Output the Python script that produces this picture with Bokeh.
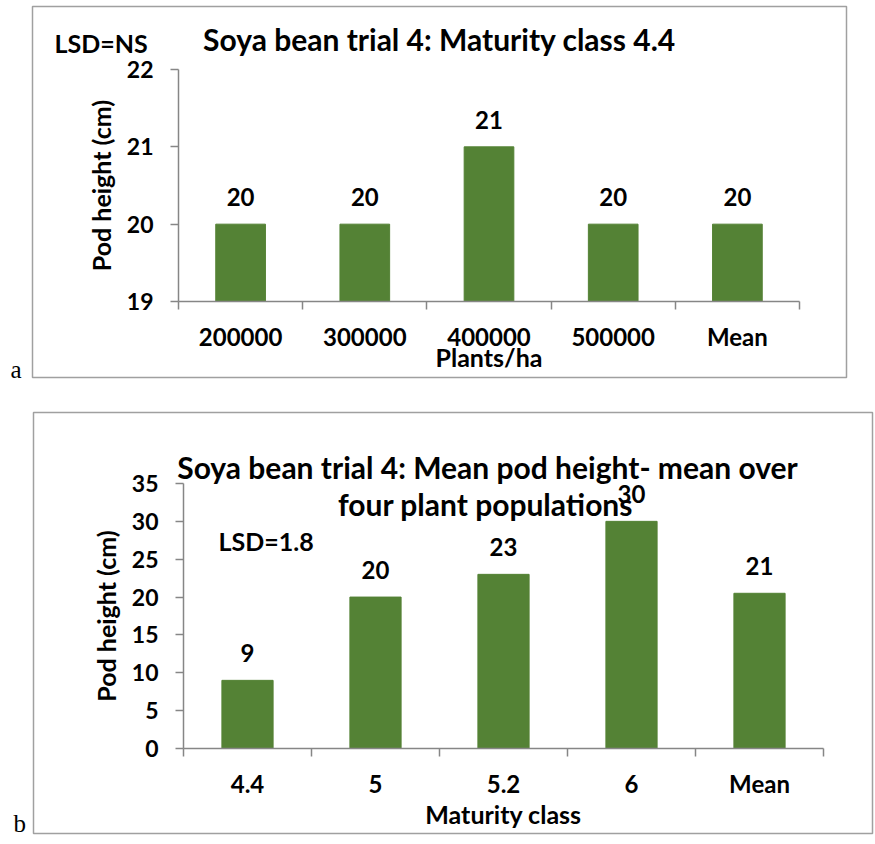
from bokeh.plotting import figure
from bokeh.models import (Range1d, FixedTicker, LabelSet, Label, BoxAnnotation,
                          ColumnDataSource)
from bokeh.core.properties import value
from bokeh.layouts import column
from bokeh.embed import file_html
from bokeh.resources import INLINE

# ---------------- data ----------------
a_categories = ["200000", "300000", "400000", "500000", "Mean"]
a_values = [20, 20, 21, 20, 20]
a_value_labels = ["20", "20", "21", "20", "20"]
a_yticks = [19, 20, 21, 22]
a_ymin, a_ymax = 19, 22
a_title = "Soya bean trial 4: Maturity class 4.4"
a_xlabel = "Plants/ha"
a_lsd = "LSD=NS"

b_categories = ["4.4", "5", "5.2", "6", "Mean"]
b_values = [9, 20, 23, 30, 20.5]
b_value_labels = ["9", "20", "23", "30", "21"]
b_yticks = [0, 5, 10, 15, 20, 25, 30, 35]
b_ymin, b_ymax = 0, 35
b_title1 = "Soya bean trial 4: Mean pod height- mean over"
b_title2 = "four plant populations"
b_xlabel = "Maturity class"
b_lsd = "LSD=1.8"

ylabel = "Pod height (cm)"

# ---------------- style ----------------
FONT = "Lato"
GREEN = "#548235"
AXIS = "#868686"
BORDER = "#a0a0a0"
W = 875


def make_panel(cats, vals, labs, yticks, ymin, ymax, xlabel, canvas_top, height,
               fl, fr, ft, fb, xlab_standoff, texts, border, letter):
    """fl/fr/ft/fb: plot-area edges in page pixels."""
    n = len(cats)
    ux = (fr - fl) / n
    uy = (fb - ft) / (ymax - ymin)

    def dx(px):
        return -0.5 + (px - fl) / ux

    def dy(py):
        return ymin + (fb - py) / uy

    p = figure(width=W, height=height,
               x_range=Range1d(dx(0), dx(W)),
               y_range=Range1d(dy(canvas_top + height), dy(canvas_top)),
               output_backend="svg", toolbar_location=None,
               min_border=0, min_border_left=0, min_border_right=0,
               min_border_top=0, min_border_bottom=0)
    p.outline_line_color = None
    p.xgrid.visible = False
    p.ygrid.visible = False
    p.background_fill_color = "white"
    p.border_fill_color = "white"

    bl, br, bt, bb = border
    p.add_layout(BoxAnnotation(left=dx(bl), right=dx(br), top=dy(bt), bottom=dy(bb),
                               fill_alpha=0, line_color=BORDER, line_width=1.5,
                               line_alpha=1))

    xs = list(range(n))
    src = ColumnDataSource(dict(x=xs, top=vals, lab=labs))
    p.vbar(x="x", top="top", bottom=ymin, width=0.4, source=src,
           fill_color=GREEN, line_color=GREEN)
    p.add_layout(LabelSet(x="x", y="top", text="lab", source=src,
                          y_offset=27, text_align="center",
                          text_baseline="middle", text_font=value(FONT),
                          text_font_style="bold", text_font_size="24px",
                          text_color="black"))

    xa = p.xaxis[0]
    xa.fixed_location = ymin
    xa.bounds = (-0.5, n - 0.5)
    xa.ticker = FixedTicker(ticks=xs, minor_ticks=[i - 0.5 for i in range(n + 1)])
    xa.major_label_overrides = {i: c for i, c in enumerate(cats)}
    xa.axis_line_color = AXIS
    xa.axis_line_width = 1.5
    xa.major_tick_line_color = None
    xa.major_tick_out = 0
    xa.major_tick_in = 0
    xa.minor_tick_line_color = AXIS
    xa.minor_tick_line_width = 1.5
    xa.minor_tick_out = 8
    xa.minor_tick_in = 0
    xa.major_label_standoff = 12
    xa.major_label_text_font = FONT
    xa.major_label_text_font_style = "bold"
    xa.major_label_text_font_size = "24px"
    xa.major_label_text_color = "black"
    xa.axis_label = xlabel
    xa.axis_label_standoff = xlab_standoff
    xa.axis_label_text_font = FONT
    xa.axis_label_text_font_style = "bold"
    xa.axis_label_text_font_size = "25px"
    xa.axis_label_text_color = "black"

    ya = p.yaxis[0]
    ya.fixed_location = -0.5
    ya.bounds = (ymin, ymax)
    ya.ticker = FixedTicker(ticks=yticks)
    ya.axis_line_color = AXIS
    ya.axis_line_width = 1.5
    ya.major_tick_line_color = AXIS
    ya.major_tick_line_width = 1.5
    ya.major_tick_out = 8
    ya.major_tick_in = 0
    ya.minor_tick_line_color = None
    ya.major_label_standoff = 17
    ya.major_label_text_font = FONT
    ya.major_label_text_font_style = "bold"
    ya.major_label_text_font_size = "23px"
    ya.major_label_text_color = "black"
    ya.axis_label = ylabel
    ya.axis_label_standoff = 8
    ya.axis_label_text_font = FONT
    ya.axis_label_text_font_style = "bold"
    ya.axis_label_text_font_size = "25px"
    ya.axis_label_text_color = "black"

    for (txt, px, py, align, size) in texts:
        p.add_layout(Label(x=dx(px), y=dy(py), text=txt, text_font=FONT,
                           text_font_style="bold", text_font_size=size,
                           text_align=align, text_baseline="middle",
                           text_color="black"))

    lt, lx, ly = letter
    p.add_layout(Label(x=dx(lx), y=dy(ly), text=lt, text_font="Liberation Serif",
                       text_font_size="25px", text_align="left",
                       text_baseline="middle", text_color="black"))
    return p


pa = make_panel(a_categories, a_values, a_value_labels, a_yticks, a_ymin, a_ymax,
                a_xlabel, 0, 400, 178, 799, 69, 301, -12,
                [(a_title, 439, 38, "center", "30px"),
                 (a_lsd, 54, 42, "left", "25px")],
                (32, 846, 6, 377), ("a", 10, 369))

pb = make_panel(b_categories, b_values, b_value_labels, b_yticks, b_ymin, b_ymax,
                b_xlabel, 400, 444, 183, 823, 483, 748, -2,
                [(b_title1, 487, 466, "center", "30px"),
                 (b_title2, 485, 503, "center", "30px"),
                 (b_lsd, 218, 540, "left", "25px")],
                (33, 872, 412, 833), ("b", 13, 823))

layout = column(pa, pb)
open("out.html", "w").write(file_html(layout, INLINE))
